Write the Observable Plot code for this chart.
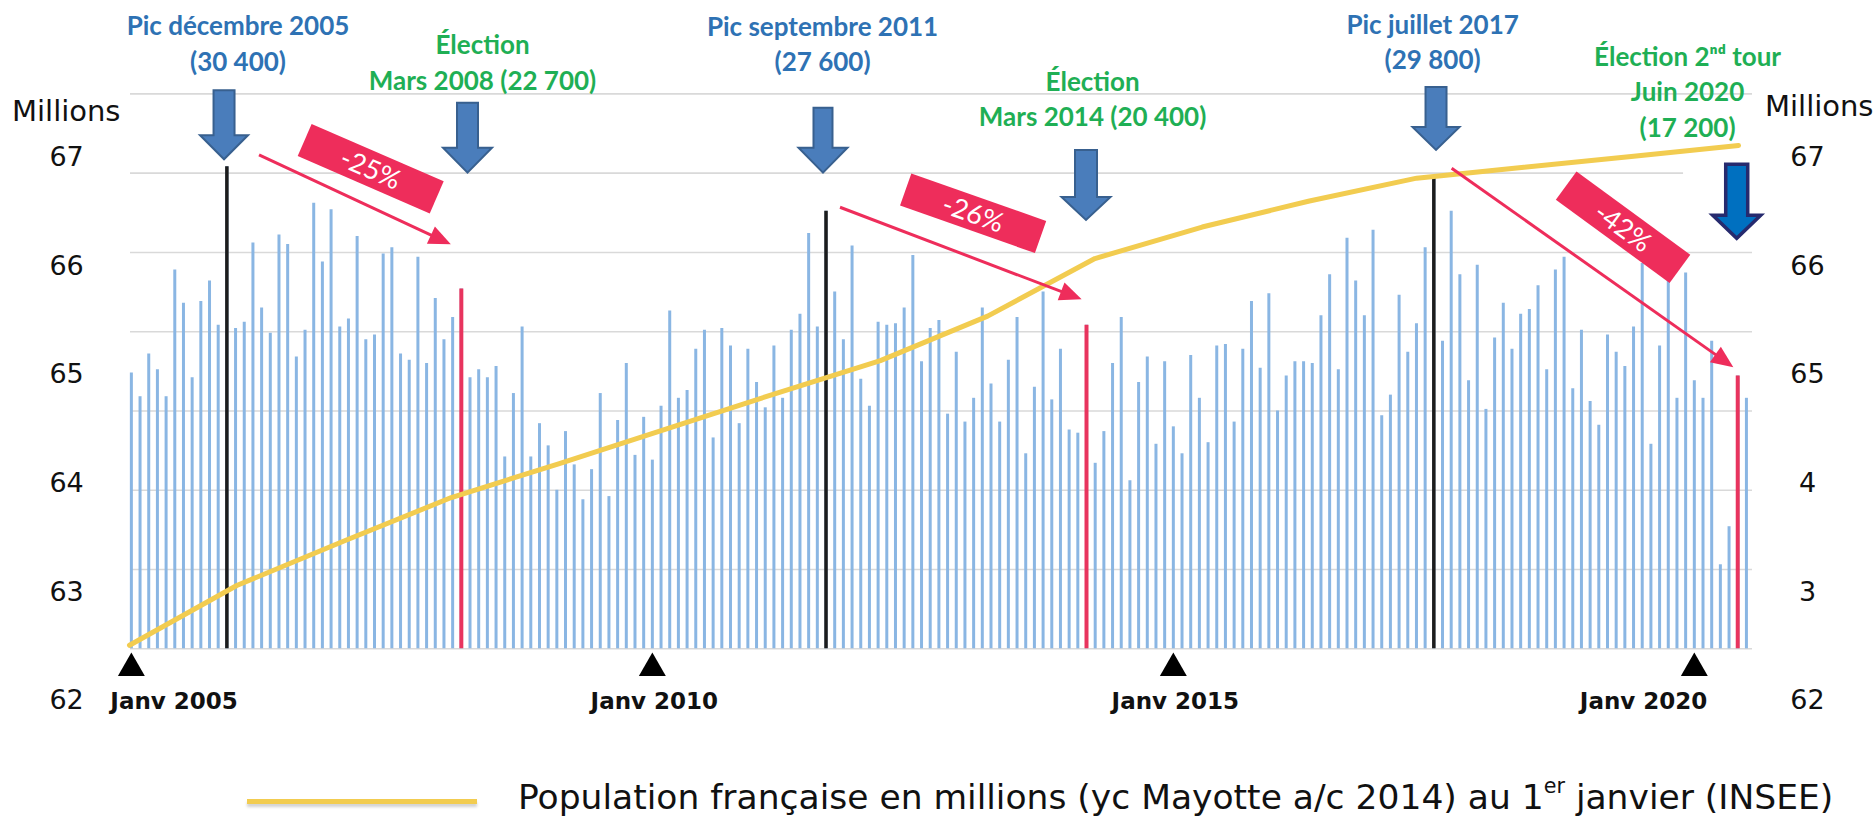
<!DOCTYPE html>
<html>
<head>
<meta charset="utf-8">
<script src="https://cdn.jsdelivr.net/npm/d3@7"></script>
<script src="https://cdn.jsdelivr.net/npm/@observablehq/plot@0.6"></script>
<style>
  html, body { margin: 0; padding: 0; background: #fff; overflow: hidden; }
  #chart { position: relative; width: 1876px; height: 819px; overflow: hidden; background: #fff; }
  #chart > svg { position: absolute; left: 0; top: 0; }
  .lbl { position: absolute; font-family: "DejaVu Sans", sans-serif; color: #111; white-space: nowrap; line-height: 1; }
  .legend-line { position: absolute; left: 247px; top: 799px; width: 230px; height: 5px; background: #f2cc50; box-shadow: 0 3px 3px rgba(0,0,0,0.18); }
  .legend-text { left: 518px; top: 780px; font-size: 34.5px; }
  .legend-text sup { font-size: 0.6em; vertical-align: 0.75em; line-height: 0; }
</style>
</head>
<body>
<div id="chart"></div>
<script>
// ---------------- DATA ----------------
// Monthly counts, January 2005 (index 0) to July 2020 (index 186)
const monthlyValues = [
  17400, 15900, 18600, 17600, 15900, 23900, 21800, 17100, 21900, 23200, 20400, 30400, // 2005
  20200, 20600, 25600, 21500, 19900, 26100, 25500, 18400, 20100, 28100, 24400, 27700, // 2006
  20300, 20800, 26000, 19500, 19800, 24900, 25300, 18600, 18200, 24700, 18000, 22100, // 2007
  19500, 20900, 22700, 17100, 17600, 17100, 17800, 12100, 16100, 20300, 12100, 14200, // 2008
  12800, 10000, 13700, 11600,  9400, 11300, 16100,  9600, 14400, 18000, 12200, 14600, // 2009
  11900, 15300, 21300, 15800, 16300, 18900, 20100, 13300, 20200, 19100, 14200, 18900, // 2010
  16800, 15200, 19100, 15800, 20100, 21100, 26200, 20300, 27600, 22500, 19500, 25400, // 2011
  17000, 15300, 20600, 20400, 20500, 21500, 24800, 18100, 20200, 20700, 14800, 18700, // 2012
  14300, 15800, 21500, 16700, 14300, 18200, 20900, 12300, 16500, 22500, 15700, 18900, // 2013
  13800, 13600, 20400, 11700, 13700, 18000, 20900, 10600, 16800, 18400, 12900, 18100, // 2014
  14000, 12300, 18500, 15800, 13000, 19100, 19200, 14300, 18900, 21900, 17700, 22400, // 2015
  15000, 17200, 18100, 18100, 18000, 21000, 23600, 17600, 25900, 23200, 21000, 26400, // 2016
  14700, 16000, 22300, 18700, 20500, 25300, 29800, 19400, 27600, 23600, 16900, 24200, // 2017
  15100, 19600, 21800, 18900, 21100, 21400, 22900, 17600, 23900, 24700, 16400, 20100, // 2018
  15600, 14100, 19800, 18700, 17800, 20300, 24300, 12900, 19100, 23600, 15800, 23700, // 2019
  16900, 15800, 19400,  5300,  7700, 17200, 15800                                      // 2020
];
const peakMonths = [11, 80, 150];          // déc. 2005, sept. 2011, juil. 2017
const peakLabels = ["Pic décembre 2005\n(30 400)", "Pic septembre 2011\n(27 600)", "Pic juillet 2017\n(29 800)"];
const electionMonths = [38, 110, 185];     // mars 2008, mars 2014, juin 2020
const electionLabels = ["Élection\nMars 2008 (22 700)", "Élection\nMars 2014 (20 400)", "Élection 2ⁿᵈ tour\nJuin 2020\n(17 200)"];
const dropLabels = ["-25%", "-26%", "-42%"];
const tickMonths = [0, 60, 120, 180];
const tickLabels = ["Janv 2005", "Janv 2010", "Janv 2015", "Janv 2020"];
const gridValues = [0, 5000, 10000, 15000, 20000, 25000, 30000, 35000];

const popYears = [2005, 2006, 2007, 2008, 2009, 2010, 2011, 2012, 2013, 2014, 2015, 2016, 2017, 2018, 2019, 2020];
const popValues = [62.51, 63.06, 63.47, 63.87, 64.18, 64.50, 64.82, 65.13, 65.54, 66.07, 66.36, 66.60, 66.81, 66.91, 67.01, 67.11];
const popTicks = [62, 63, 64, 65, 66, 67];
const popLeftLabels = ["62", "63", "64", "65", "66", "67"];
const popRightLabels = ["62", "3", "4", "65", "66", "67"];

// ---------------- TABLES ----------------
const bars = monthlyValues.map((v, i) => ({i, v}));
const peaks = peakMonths.map((m, k) => ({i: m, v: monthlyValues[m], label: peakLabels[k]}));
const elections = electionMonths.map((m, k) => ({i: m, v: monthlyValues[m], label: electionLabels[k]}));
const ticks = tickMonths.map((m, k) => ({i: m, label: tickLabels[k]}));
const pop = popYears.map((year, k) => ({year, pop: popValues[k]}));

// ---------------- LAYOUT (annotation anchors in chart units) ----------------
const frame = {
  width: 1876, height: 819,
  marginLeft: 130, marginRight: 124, marginTop: 93.4, marginBottom: 170.7,
  x: {domain: [-0.1, 186.7], axis: null},
  y: {domain: [0, 35000], axis: null}
};
const peakTextPos = [[12.28, 38300], [79.6, 38250], [149.86, 38400]];
const electionTextPos = [[40.44, 37090], [110.7, 34780], [179.22, 35250]];
const blockArrows = [
  {x: 10.73, tip: 30846, len: 69, head: 24, shaft: 21, width: 48, fill: "#4a7dbb", stroke: "#38608f", sw: 2},
  {x: 38.77, tip: 30000, len: 70, head: 25, shaft: 21, width: 49, fill: "#4a7dbb", stroke: "#38608f", sw: 2},
  {x: 79.71, tip: 30000, len: 65, head: 25, shaft: 19, width: 49, fill: "#4a7dbb", stroke: "#38608f", sw: 2},
  {x: 110.0, tip: 27017, len: 70, head: 23, shaft: 22, width: 49, fill: "#4a7dbb", stroke: "#38608f", sw: 2},
  {x: 150.31, tip: 31432, len: 63, head: 23, shaft: 21, width: 47, fill: "#4a7dbb", stroke: "#38608f", sw: 2},
  {x: 184.94, tip: 25863, len: 74, head: 23, shaft: 22, width: 48, fill: "#0070c0", stroke: "#262a6e", sw: 3.5}
];
const dropArrows = [
  {x1: 14.76, y1: 31117, x2: 36.85, y2: 25478},
  {x1: 81.67, y1: 27818, x2: 109.50, y2: 22015},
  {x1: 152.11, y1: 30278, x2: 184.55, y2: 17732}
];
const dropBoxes = [
  {x: 27.62, y: 30253, angle: 23.5, w: 144, h: 35},
  {x: 97.0, y: 27440, angle: 19.4, w: 143, h: 34},
  {x: 171.85, y: 26562, angle: 36.2, w: 141, h: 35}
];
const whitePatch = {x1: 178.76, x2: 187.6, y1: 30800, y2: 25440};

const RED = "#ee2d5b";
const BLUE_TXT = "#2e72b4";
const GREEN_TXT = "#1faf55";

// ---------------- LAYER 1 : bars ----------------
const barPlot = Plot.plot({
  ...frame,
  style: {background: "white"},
  marks: [
    Plot.ruleY(gridValues, {stroke: "#d9d9d9", strokeWidth: 1.6}),
    Plot.ruleX(bars, {x: "i", y1: () => 0, y2: "v", stroke: "#8ab6e3", strokeWidth: 3}),
    Plot.ruleX(peaks, {x: "i", y1: () => 0, y2: "v", stroke: "#1c1c1c", strokeWidth: 3.5}),
    Plot.ruleX(elections, {x: "i", y1: () => 0, y2: "v", stroke: "#e8345e", strokeWidth: 4}),
    Plot.dot(ticks, {x: "i", y: () => 0, dy: 19.3, symbol: "triangle", r: 10, fill: "#000"}),
    Plot.text(ticks.slice(0, 1), {x: "i", y: () => 0, text: "label", dy: 52.7, dx: -21, textAnchor: "start",
      fontFamily: "DejaVu Sans", fontWeight: "bold", fontSize: 23, fill: "#111"}),
    Plot.text(ticks.slice(1, 3), {x: "i", y: () => 0, text: "label", dy: 52.7, dx: 2, textAnchor: "middle",
      fontFamily: "DejaVu Sans", fontWeight: "bold", fontSize: 23, fill: "#111"}),
    Plot.text(ticks.slice(3), {x: "i", y: () => 0, text: "label", dy: 52.7, dx: 13, textAnchor: "end",
      fontFamily: "DejaVu Sans", fontWeight: "bold", fontSize: 23, fill: "#111"})
  ]
});

// ---------------- LAYER 2 : population ----------------
const popPlot = Plot.plot({
  width: 1876, height: 819,
  marginLeft: 129, marginRight: 138, marginTop: 157, marginBottom: 118.8,
  x: {domain: [2005, 2020], axis: null},
  y: {domain: [62, 67], axis: null},
  style: {background: "transparent"},
  marks: [
    Plot.line(pop, {x: "year", y: "pop", stroke: "#f2cc50", strokeWidth: 5, strokeLinecap: "round"}),
    Plot.text(popTicks, {y: d => d, text: (d, k) => popLeftLabels[k], frameAnchor: "left", dx: -45.7, textAnchor: "end",
      fontFamily: "DejaVu Sans", fontSize: 27, fill: "#111"}),
    Plot.text(popTicks, {y: d => d, text: (d, k) => popRightLabels[k], frameAnchor: "right", dx: 69, textAnchor: "middle",
      fontFamily: "DejaVu Sans", fontSize: 27, fill: "#111"})
  ]
});

// ---------------- LAYER 3 : annotations ----------------
function decorations(index, scales) {
  const {x, y} = scales;
  const g = d3.create("svg:g");
  // white patch behind the last blue arrow
  g.append("rect")
    .attr("x", x(whitePatch.x1)).attr("y", y(whitePatch.y1))
    .attr("width", x(whitePatch.x2) - x(whitePatch.x1))
    .attr("height", y(whitePatch.y2) - y(whitePatch.y1))
    .attr("fill", "white");
  // block arrows
  for (const a of blockArrows) {
    const tx = x(a.x), ty = y(a.tip), s = a.shaft / 2, h = a.width / 2;
    const pts = [[tx - s, ty - a.len], [tx + s, ty - a.len], [tx + s, ty - a.head], [tx + h, ty - a.head],
                 [tx, ty], [tx - h, ty - a.head], [tx - s, ty - a.head]];
    g.append("path").attr("d", "M" + pts.map(p => p.join(",")).join("L") + "Z")
      .attr("fill", a.fill).attr("stroke", a.stroke).attr("stroke-width", a.sw).attr("stroke-linejoin", "miter");
  }
  // red trend arrows
  for (const r of dropArrows) {
    const x1 = x(r.x1), y1 = y(r.y1), x2 = x(r.x2), y2 = y(r.y2);
    const ang = Math.atan2(y2 - y1, x2 - x1), L = 22, W = 9.5;
    const bx = x2 - L * Math.cos(ang), by = y2 - L * Math.sin(ang);
    g.append("line").attr("x1", x1).attr("y1", y1).attr("x2", bx + 2 * Math.cos(ang)).attr("y2", by + 2 * Math.sin(ang))
      .attr("stroke", RED).attr("stroke-width", 3);
    g.append("path")
      .attr("d", `M${x2},${y2}L${bx - W * Math.sin(ang)},${by + W * Math.cos(ang)}L${bx + W * Math.sin(ang)},${by - W * Math.cos(ang)}Z`)
      .attr("fill", RED);
  }
  // rotated percentage boxes
  dropBoxes.forEach((b, k) => {
    const gg = g.append("g").attr("transform", `translate(${x(b.x)},${y(b.y)}) rotate(${b.angle})`);
    gg.append("rect").attr("x", -b.w / 2).attr("y", -b.h / 2).attr("width", b.w).attr("height", b.h).attr("fill", RED);
    gg.append("text").attr("text-anchor", "middle").attr("dy", "0.36em")
      .attr("fill", "white").attr("font-family", "Lato, sans-serif").attr("font-size", 27)
      .text(dropLabels[k]);
  });
  return g.node();
}

const annPlot = Plot.plot({
  ...frame,
  style: {background: "transparent"},
  marks: [
    decorations,
    Plot.text(peaks, {x: (d, k) => peakTextPos[k][0], y: (d, k) => peakTextPos[k][1], text: "label",
      fontFamily: "Lato", fontWeight: "bold", fontSize: 26, lineHeight: 1.36, fill: BLUE_TXT}),
    Plot.text(elections, {x: (d, k) => electionTextPos[k][0], y: (d, k) => electionTextPos[k][1], text: "label",
      fontFamily: "Lato", fontWeight: "bold", fontSize: 26, lineHeight: 1.36, fill: GREEN_TXT})
  ]
});

const chart = document.getElementById("chart");
chart.append(barPlot, popPlot, annPlot);

// axis titles and legend (real text)
function addLabel(cls, text, style) {
  const d = document.createElement("div");
  d.className = "lbl " + cls;
  d.innerHTML = text;
  Object.assign(d.style, style);
  chart.append(d);
}
addLabel("", "Millions", {left: "12px", top: "97px", fontSize: "29px"});
addLabel("", "Millions", {left: "1765px", top: "92px", fontSize: "29px"});
const line = document.createElement("div");
line.className = "legend-line";
chart.append(line);
addLabel("legend-text", "Population française en millions (yc Mayotte a/c 2014) au 1<sup>er</sup> janvier (INSEE)", {});
</script>
</body>
</html>
